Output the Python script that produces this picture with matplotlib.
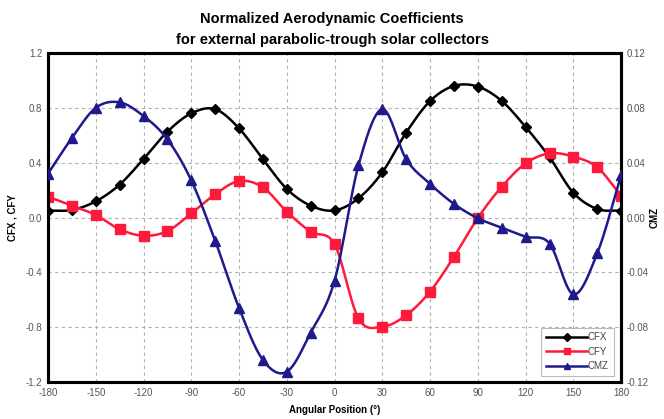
import numpy as np
import matplotlib
matplotlib.use("Agg")
import matplotlib.pyplot as plt
from matplotlib.lines import Line2D

plt.rcParams['font.family'] = ['Liberation Sans', 'DejaVu Sans']
plt.rcParams['axes.unicode_minus'] = False

# Angular positions (deg)
angle = list(range(-180, 181, 15))

# Coefficients
cfx = [0.05, 0.055, 0.118, 0.24, 0.427, 0.626, 0.76, 0.79, 0.65, 0.425, 0.208, 0.086, 0.052,
       0.14, 0.33, 0.62, 0.85, 0.96, 0.955, 0.85, 0.66, 0.44, 0.18, 0.062, 0.05]
cfy = [0.152, 0.086, 0.018, -0.086, -0.133, -0.099, 0.03, 0.17, 0.266, 0.22, 0.042, -0.104, -0.196,
       -0.736, -0.797, -0.712, -0.54, -0.286, -0.003, 0.225, 0.395, 0.468, 0.444, 0.366, 0.157]
cmz = [0.032, 0.058, 0.080, 0.084, 0.074, 0.057, 0.027, -0.017, -0.066, -0.104, -0.1125, -0.084, -0.046,
       0.038, 0.079, 0.0425, 0.0245, 0.0099, -0.0006, -0.0074, -0.014, -0.019, -0.056, -0.026, 0.031]


def smooth(x, y, n=20):
    # Catmull-Rom style smoothing similar to spreadsheet "smoothed line"
    x = np.asarray(x, float)
    y = np.asarray(y, float)
    px = np.concatenate([[2 * x[0] - x[1]], x, [2 * x[-1] - x[-2]]])
    py = np.concatenate([[2 * y[0] - y[1]], y, [2 * y[-1] - y[-2]]])
    xs, ys = [], []
    t = np.linspace(0, 1, n, endpoint=False)
    for i in range(1, len(px) - 2):
        f = lambda a0, a1, a2, a3: 0.5 * ((2 * a1) + (-a0 + a2) * t
                                          + (2 * a0 - 5 * a1 + 4 * a2 - a3) * t ** 2
                                          + (-a0 + 3 * a1 - 3 * a2 + a3) * t ** 3)
        xs.append(f(px[i - 1], px[i], px[i + 1], px[i + 2]))
        ys.append(f(py[i - 1], py[i], py[i + 1], py[i + 2]))
    xs.append([x[-1]])
    ys.append([y[-1]])
    return np.concatenate(xs), np.concatenate(ys)


fig = plt.figure(figsize=(6.64, 4.19), dpi=100)
ax = fig.add_axes([0.0723, 0.0883, 0.8632, 0.7852])
ax2 = ax.twinx()

black = '#000000'
red = '#FF1A3C'
blue = '#1E1A8C'

sx, sy = smooth(angle, cfx)
ax.plot(sx, sy, color=black, lw=1.8, zorder=3)
ax.plot(angle, cfx, ls='none', marker='D', ms=5.5, color=black, zorder=4)

sx, sy = smooth(angle, cfy)
ax.plot(sx, sy, color=red, lw=1.8, zorder=3)
ax.plot(angle, cfy, ls='none', marker='s', ms=7, color=red, zorder=4)

sx, sy = smooth(angle, cmz)
ax2.plot(sx, sy, color=blue, lw=1.8, zorder=3)
ax2.plot(angle, cmz, ls='none', marker='^', ms=7.5, color=blue, zorder=4)

ax.set_xlim(-180, 180)
ax.set_ylim(-1.2, 1.2)
ax2.set_ylim(-0.12, 0.12)
ax.set_xticks(range(-180, 181, 30))
yt = np.arange(-1.2, 1.21, 0.4)
ax.set_yticks(yt)
ax.set_yticklabels(['%.1f' % v if abs(v) > 1e-9 else '0.0' for v in yt])
yt2 = np.arange(-0.12, 0.121, 0.04)
ax2.set_yticks(yt2)
ax2.set_yticklabels(['%.2f' % v if abs(v) > 1e-9 else '0.00' for v in yt2])

ax.grid(True, color='#b0b0b0', ls=(0, (3, 3)), lw=0.8)
ax.set_axisbelow(True)
for a in (ax, ax2):
    a.tick_params(length=0, labelsize=7, labelcolor='#555555', pad=4)
    for s in a.spines.values():
        s.set_linewidth(2.2)
        s.set_color('black')

ax.set_xlabel('Angular Position (°)', fontsize=7, fontweight='bold', labelpad=5)
ax.set_ylabel('CFX , CFY', fontsize=7, fontweight='bold', labelpad=6)
ax2.set_ylabel('CMZ', fontsize=7, fontweight='bold')
ax2.yaxis.set_label_coords(1.05, 0.5)

fig.text(0.5, 0.955, 'Normalized Aerodynamic Coefficients', ha='center', va='center',
         fontsize=10.5, fontweight='bold')
fig.text(0.5, 0.905, 'for external parabolic-trough solar collectors', ha='center', va='center',
         fontsize=10.5, fontweight='bold')

handles = [Line2D([], [], color=black, marker='D', ms=4, lw=1.8),
           Line2D([], [], color=red, marker='s', ms=5, lw=1.8),
           Line2D([], [], color=blue, marker='^', ms=5, lw=1.8)]
leg = ax2.legend(handles, ['CFX', 'CFY', 'CMZ'], loc='lower right', bbox_to_anchor=(0.987, 0.018),
                 fontsize=7, frameon=True, fancybox=False, handlelength=4.2, handletextpad=0.1,
                 labelspacing=0.45, borderpad=0.5, borderaxespad=0, edgecolor='#aaaaaa')
leg.get_frame().set_linewidth(0.8)
for t in leg.get_texts():
    t.set_color('#444444')

fig.savefig('out.png', dpi=100)
